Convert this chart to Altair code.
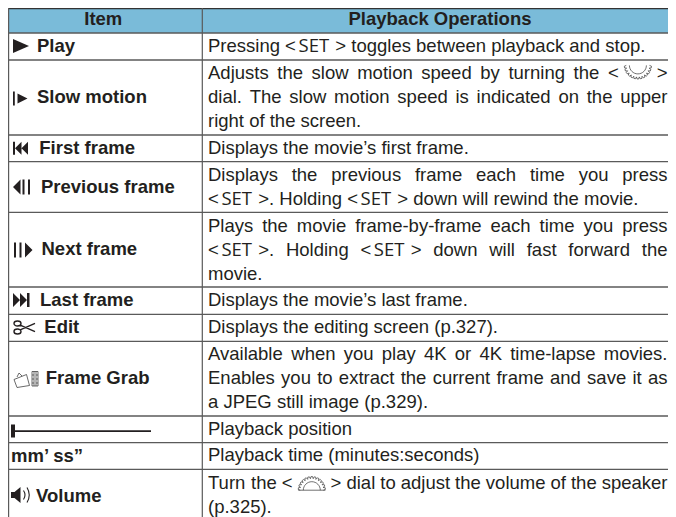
import math
import re
import altair as alt
import pandas as pd

HEADERS = ["Item", "Playback Operations"]
ITEMS = ["Play", "Slow motion", "First frame", "Previous frame", "Next frame",
         "Last frame", "Edit", "Frame Grab", "mm’ ss”", "Volume"]
ITEM_X = [37, 37, 39.3, 41, 41.5, 40, 44.3, 45.7, 11, 36]
ITEM_BASE = [52, 103.3, 154, 192.7, 255, 306, 333, 383.7, 461.7, 501.5]

# (text, baseline, justified)
LINES = [
    ("Pressing <SET> toggles between playback and stop.", 52.3, False),
    ("Adjusts the slow motion speed by turning the <D1>", 79, True),
    ("dial. The slow motion speed is indicated on the upper", 103, True),
    ("right of the screen.", 127, False),
    ("Displays the movie’s first frame.", 154, False),
    ("Displays the previous frame each time you press", 181, True),
    ("<SET>. Holding <SET> down will rewind the movie.", 205, False),
    ("Plays the movie frame-by-frame each time you press", 231.7, True),
    ("<SET>. Holding <SET> down will fast forward the", 255.7, True),
    ("movie.", 280.3, False),
    ("Displays the movie’s last frame.", 306.3, False),
    ("Displays the editing screen (p.327).", 333, False),
    ("Available when you play 4K or 4K time-lapse movies.", 359.7, True),
    ("Enables you to extract the current frame and save it as", 383.7, True),
    ("a JPEG still image (p.329).", 408, False),
    ("Playback position", 435.3, False),
    ("Playback time (minutes:seconds)", 461.3, False),
    ("Turn the <D2> dial to adjust the volume of the speaker", 488.7, True),
    ("(p.325).", 512.5, False),
]
H_RULES = [33, 60, 135, 161.6, 212.4, 287, 314.3, 341.3, 416, 442.7, 469.3]

FS = 18.5
LEFT, RIGHT = 208, 667.5
INK = "#231f20"
LINE = "#5a5a5a"
HEAD = "#7abbd9"
FONT = "Liberation Sans"

W = {" ": 278, "!": 278, "'": 191, "(": 333, ")": 333, "-": 333, ".": 278, ":": 278, ",": 278,
     "<": 584, ">": 584, "’": 222,
     "A": 667, "B": 667, "C": 722, "D": 722, "E": 667, "F": 611, "G": 778, "H": 722, "I": 278,
     "J": 500, "K": 667, "L": 556, "M": 833, "N": 722, "O": 778, "P": 667, "Q": 778, "R": 722,
     "S": 667, "T": 611, "U": 722, "V": 667, "W": 944, "X": 667, "Y": 667, "Z": 611,
     "a": 556, "b": 556, "c": 500, "d": 556, "e": 556, "f": 278, "g": 556, "h": 556, "i": 222,
     "j": 222, "k": 500, "l": 222, "m": 833, "n": 556, "o": 556, "p": 556, "q": 556, "r": 333,
     "s": 500, "t": 278, "u": 556, "v": 500, "w": 722, "x": 500, "y": 500, "z": 500}


def tw(s):
    return sum(W.get(c, 556) for c in s) * FS / 1000


LT = tw("<")
SET_W = 39.4
DIAL_W = 38.0
text_rows, set_rows, dial_rows = [], [], []


def tok_width(t):
    if t == "<SET>":
        return 2 * LT + SET_W
    if t in ("<D1>", "<D2>"):
        return 2 * LT + DIAL_W
    return tw(t)


def place(t, x, y):
    if t == "<SET>":
        text_rows.append(dict(x=x, y=y, t="<"))
        set_rows.append(dict(x=x + LT + 2.6, y=y, t="SET"))
        text_rows.append(dict(x=x + LT + SET_W, y=y, t=">"))
    elif t in ("<D1>", "<D2>"):
        text_rows.append(dict(x=x, y=y, t="<"))
        dial_rows.append(dict(x=x + LT + DIAL_W / 2 + 0.2, y=y, t=t))
        text_rows.append(dict(x=x + LT + DIAL_W, y=y, t=">"))
    elif t.strip():
        # a leading space would be dropped by the SVG text, so move past it
        lead = len(t) - len(t.lstrip(" "))
        text_rows.append(dict(x=x + lead * tw(" "), y=y, t=t.strip()))


for text, y, just in LINES:
    if just:
        toks = []
        for word in text.split(" "):
            toks.append([p for p in re.split(r"(<SET>|<D1>|<D2>)", word) if p])
        total = sum(tok_width(p) for w in toks for p in w)
        gap = (RIGHT - LEFT - total) / (len(toks) - 1)
        x = LEFT
        for w in toks:
            for p in w:
                place(p, x, y)
                x += tok_width(p)
            x += gap
    else:
        x = LEFT
        for p in re.split(r"(<SET>|<D1>|<D2>)", text):
            place(p, x, y)
            x += tok_width(p)

X = alt.X("x:Q", scale=alt.Scale(domain=[8, 668], nice=False, zero=False), axis=None)
Y = alt.Y("y:Q", scale=alt.Scale(domain=[517, 8], nice=False, zero=False), axis=None)
X2 = alt.X2("x2:Q")
Y2 = alt.Y2("y2:Q")

layers = []
layers.append(alt.Chart(pd.DataFrame([dict(x=8, x2=668, y=8, y2=33)])).mark_rect(color=HEAD).encode(x=X, x2=X2, y=Y, y2=Y2))
layers.append(alt.Chart(pd.DataFrame([dict(x=8, x2=668, y=y) for y in H_RULES])).mark_rule(color=LINE, strokeWidth=1.3).encode(x=X, x2=X2, y=Y))
layers.append(alt.Chart(pd.DataFrame([dict(x=8, x2=668, y=8.6)])).mark_rule(color="#333333", strokeWidth=1.2).encode(x=X, x2=X2, y=Y))
layers.append(alt.Chart(pd.DataFrame([dict(x=v, y=8, y2=517) for v in (8.6, 202.3)])).mark_rule(color=LINE, strokeWidth=1.2).encode(x=X, y=Y, y2=Y2))


def text_layer(rows, **kw):
    base = dict(align="left", baseline="alphabetic", font=FONT, fontSize=FS, color=INK)
    base.update(kw)
    return alt.Chart(pd.DataFrame(rows)).mark_text(**base).encode(x=X, y=Y, text="t:N")


layers.append(text_layer([dict(x=103.3, y=25.3, t=HEADERS[0]), dict(x=440, y=25.3, t=HEADERS[1])],
                         align="center", fontWeight="bold"))
layers.append(text_layer([dict(x=a, y=b, t=c) for a, b, c in zip(ITEM_X, ITEM_BASE, ITEMS)], fontWeight="bold"))
layers.append(text_layer(text_rows))
layers.append(text_layer(set_rows, font="Open Sans"))


# Glyph outlines are in local pixels around their anchor; size=4 makes one path unit one pixel.
def icon(path, x, y, filled=True, sw=1.0, color=INK):
    kw = dict(shape=path, size=4, opacity=1)
    if filled:
        kw.update(filled=True, fill=color, strokeWidth=0)
    else:
        kw.update(filled=False, stroke=color, strokeWidth=sw)
    return alt.Chart(pd.DataFrame([dict(x=x, y=y)])).mark_point(**kw).encode(x=X, y=Y)


def tri_r(x0, x1, h):
    return f"M{x0} {-h}L{x1} 0L{x0} {h}Z"


def tri_l(x0, x1, h):
    return f"M{x1} {-h}L{x0} 0L{x1} {h}Z"


def bar(x0, x1, h):
    return f"M{x0} {-h}H{x1}V{h}H{x0}Z"


def gear(up):
    s = -1 if up else 1
    pts = []
    n = 13
    for i in range(n):
        a0 = math.pi * i / n
        for a, r in ((a0, 11.6), (a0 + 0.06, 13.6), (a0 + math.pi / n - 0.06, 13.6), (a0 + math.pi / n, 11.6)):
            pts.append((round(-r * math.cos(a), 2), round(s * r * math.sin(a), 2)))
    return "M" + "L".join(f"{a} {b}" for a, b in pts)


layers += [
    icon(tri_r(-8, 8, 7), 21, 46),
    icon(bar(-8, -6.2, 7) + tri_r(-3.5, 6.5, 5), 21, 98.5),
    icon(bar(-8, -6, 6.5) + tri_l(-6, 0.5, 6.5) + tri_l(0.5, 7, 6.5), 21, 148.3),
    icon(tri_l(-9, -1.5, 7.5) + bar(0.5, 2.5, 7.5) + bar(6, 8, 7.5), 22, 187),
    icon(bar(-9, -7, 7.5) + bar(-3.5, -1.5, 7.5) + tri_r(2, 9.5, 7.5), 23, 250),
    icon(tri_r(-8.5, -1.5, 7) + tri_r(-1.5, 5.5, 7) + bar(5.5, 8, 7), 21.5, 300),
    icon("M-10 -4A3.5 2.5 0 1 0 -3 -4A3.5 2.5 0 1 0 -10 -4ZM-10 4A3.5 2.5 0 1 0 -3 4A3.5 2.5 0 1 0 -10 4ZM-3.8 -2.4L11 4.2M-3.8 2.4L11 -4.2", 24, 327.5, filled=False, sw=1.4),
    icon("M-11 1.5L1.5 -3.5L4.5 7.5L-8 9.5ZM-8 -1L-6 -5L-3 -2M7 -6.5H13V8H7ZM9 -6.5V8M11 -6.5V8M7 -3H9M7 1H9M7 5H9M11 -3H13M11 1H13M11 5H13", 25, 378, filled=False, sw=0.8, color="#444444"),
    icon("M-12 -6.5H-8V6.5H-12ZM-8 -0.7H128V0.9H-8Z", 23, 431),
    icon("M-9.5 -3H-6L0 -8V8L-6 3H-9.5Z", 20.5, 495),
    icon("M3 -4.5Q6 0 3 4.5M6.5 -7.5Q11 0 6.5 7.5", 20.5, 495, filled=False, sw=1.1),
]
for r in dial_rows:
    if r["t"] == "<D1>":
        layers.append(icon(gear(False) + "M-8.5 0A8.5 8.5 0 0 0 8.5 0", r["x"], r["y"] - 13.6, filled=False, sw=0.7, color="#333333"))
    else:
        layers.append(icon(gear(True) + "M-8.5 0A8.5 8.5 0 0 1 8.5 0M-13.6 0H13.6", r["x"], r["y"] + 1.5, filled=False, sw=0.7, color="#333333"))

chart = alt.layer(*layers).properties(
    width=660, height=509, padding=0, autosize="none", background="white"
).configure_view(stroke=None)

chart.save("out.html", embed_options={"renderer": "svg", "actions": False})
